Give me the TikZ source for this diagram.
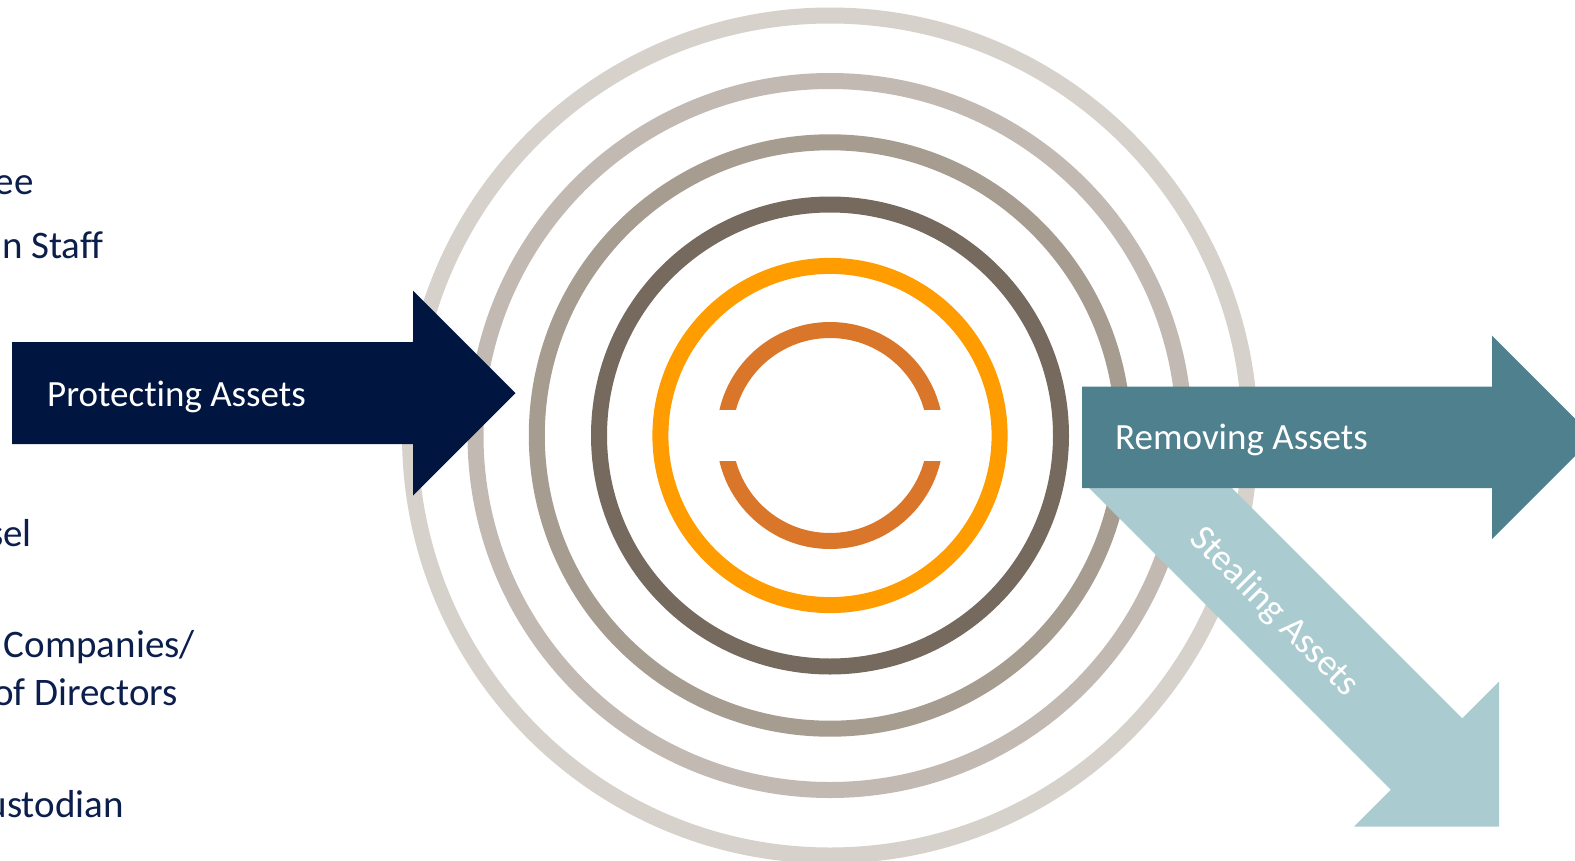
\documentclass[tikz,border=0pt]{standalone}
\usepackage{fontspec}
\setmainfont{Carlito}[Ligatures={NoCommon,NoContextual}]
\definecolor{ringA}{HTML}{D6D1CB}
\definecolor{ringB}{HTML}{C2B9B2}
\definecolor{ringC}{HTML}{A79C90}
\definecolor{ringD}{HTML}{766A5E}
\definecolor{ringE}{HTML}{FF9C00}
\definecolor{ringF}{HTML}{D97629}
\definecolor{navyA}{HTML}{001641}
\definecolor{tealA}{HTML}{4E808E}
\definecolor{tealB}{HTML}{AACCD0}
\definecolor{labelc}{HTML}{0C1E4B}
\tikzset{
  ring/.style={line width=16pt},
  lbl/.style={inner sep=0pt, text=labelc, font=\fontsize{39}{46}\selectfont, anchor=base east},
  arrowtxt/.style={inner sep=0pt, text=white, font=\fontsize{37}{44}\selectfont, anchor=base west},
}
\begin{document}
\begin{tikzpicture}[x=1pt,y=-1pt]
\useasboundingbox (0,0) rectangle (1575,860);
\clip (0,0) rectangle (1575,860);
\fill[white] (0,0) rectangle (1575,860);
\coordinate (c) at (830,435.5);
% rings
\draw[ring, ringA] (c) circle[radius=420];
\draw[ring, ringB] (c) circle[radius=354.5];
\draw[ring, ringC] (c) circle[radius=293.2];
\draw[ring, ringD] (c) circle[radius=231];
\draw[ring, ringE] (c) circle[radius=169.6];
\begin{scope}
  \clip (600,200) rectangle (1060,409);
  \draw[ring, ringF] (c) circle[radius=105.5];
\end{scope}
\begin{scope}
  \clip (600,461) rectangle (1060,700);
  \draw[ring, ringF] (c) circle[radius=105.5];
\end{scope}
% Protecting arrow
\fill[navyA] (12,342) -- (413,342) -- (413,290.5) -- (515.5,393) -- (413,495.5) -- (413,444) -- (12,444) -- cycle;
% Stealing arrow
\fill[tealB] (1156.7,412.8) -- (1462.2,718.3) -- (1499,681.5) -- (1499,826.5) -- (1354,826.5) -- (1390.8,789.7) -- (1085.3,484.2) -- cycle;
% Removing arrow
\fill[tealA] (1082,386.7) -- (1492,386.7) -- (1492,335.7) -- (1593.7,437.4) -- (1492,539) -- (1492,488) -- (1082,488) -- cycle;
% texts
\node[arrowtxt] (prot) at (47,406) {Protecting Assets};
\node[arrowtxt] (remo) at (1115,449) {Removing Assets};
\node[inner sep=0pt, text=white, font=\fontsize{37}{44}\selectfont, rotate=-45] (steal) at (1274,612) {Stealing Assets};
\node[lbl] (l1) at (34,194) {ee};
\node[lbl] (l2) at (104,258) {n Staff};
\node[lbl] (l3) at (32,546) {sel};
\node[lbl] (l4) at (195,657) {Companies/};
\node[lbl] (l5) at (178,705) {of Directors};
\node[lbl] (l6) at (124,817) {ustodian};
\end{tikzpicture}
\end{document}
